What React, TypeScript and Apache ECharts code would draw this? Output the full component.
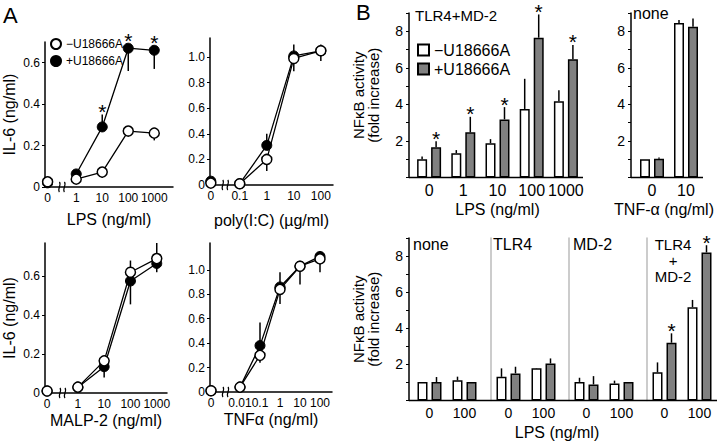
import React, { useEffect, useRef } from 'react';
import * as echarts from 'echarts';

const FONT = '"Liberation Sans", Arial, Helvetica, sans-serif';

// ---------- Panel A : IL-6 (ng/ml) ----------
const lpsDoses = [0, 1, 10, 100, 1000];
const lpsMinus = [0.025, 0.038, 0.072, 0.27, 0.26];
const lpsPlus = [0.02, 0.063, 0.29, 0.67, 0.66];
const lpsMinusErr = [0.025, 0.038, 0.045, 0.27, 0.225];
const lpsPlusErr = [0.02, 0.075, 0.35, 0.56, 0.57];
const lpsPlusSig = [false, false, true, true, true];

const polyDoses = [0, 0.1, 1, 10, 100];
const polyMinus = [0.015, 0.01, 0.2, 0.99, 1.05];
const polyPlus = [0.03, 0.01, 0.31, 1.01, 1.05];
const polyMinusErr = [0.015, 0.05, 0.11, 0.89, 0.97];
const polyPlusErr = [0.03, 0.01, 0.4, 1.1, 1.1];

const malpDoses = [0, 1, 10, 100, 1000];
const malpMinus = [0.01, 0.03, 0.165, 0.62, 0.69];
const malpPlus = [0.01, 0.03, 0.135, 0.575, 0.665];
const malpMinusErr = [0.01, 0.03, 0.19, 0.68, 0.77];
const malpPlusErr = [0.01, 0.03, 0.08, 0.455, 0.62];

const tnfDoses = [0, 0.01, 0.1, 1, 10, 100];
const tnfMinus = [0.01, 0.04, 0.3, 0.84, 1.03, 1.09];
const tnfPlus = [0.01, 0.04, 0.38, 0.86, 1.03, 1.11];
const tnfMinusErr = [0.01, 0.04, 0.24, 0.72, 0.88, 0.98];
const tnfPlusErr = [0.01, 0.04, 0.57, 0.98, 1.06, 1.14];

// ---------- Panel B : NF-kB activity (fold increase) ----------
const lpsCats = ['0', '1', '10', '100', '1000'];
const tmLpsMinus = [1.0, 1.33, 1.88, 3.75, 4.17];
const tmLpsPlus = [1.65, 2.47, 3.18, 7.65, 6.47];
const tmLpsMinusErr = [1.15, 1.5, 2.1, 5.4, 4.78];
const tmLpsPlusErr = [1.98, 3.32, 3.85, 8.92, 7.25];
const tmLpsPlusSig = [true, true, true, true, true];

const tnfCats = ['0', '10'];
const tnfNfkbMinus = [1.0, 8.45];
const tnfNfkbPlus = [1.02, 8.25];
const tnfNfkbMinusErr = [1.0, 8.62];
const tnfNfkbPlusErr = [1.1, 8.7];

const lps2Cats = ['0', '100'];
const noneMinus = [1.03, 1.12];
const nonePlus = [1.02, 1.02];
const noneMinusErr = [1.03, 1.32];
const nonePlusErr = [1.3, 1.02];
const tlr4Minus = [1.31, 1.78];
const tlr4Plus = [1.5, 2.05];
const tlr4MinusErr = [1.78, 1.8];
const tlr4PlusErr = [1.87, 2.33];
const md2Minus = [1.03, 0.94];
const md2Plus = [0.89, 1.03];
const md2MinusErr = [1.26, 1.1];
const md2PlusErr = [1.35, 1.03];
const bothMinus = [1.56, 5.17];
const bothPlus = [3.2, 8.2];
const bothMinusErr = [2.11, 5.57];
const bothPlusErr = [3.72, 8.6];
const bothPlusSig = [true, true];

const yTicksA1 = [0, 0.2, 0.4, 0.6];
const yTicksA2 = [0, 0.2, 0.4, 0.6, 0.8, 1.0];

// ---------- layout ----------
const G = [
  { left: 45, top: 42, width: 128, height: 145 }, // A LPS
  { left: 210, top: 38, width: 123, height: 147 }, // A poly(I:C)
  { left: 45, top: 243, width: 122, height: 150 }, // A MALP-2
  { left: 210, top: 243, width: 122, height: 149 }, // A TNFa
  { left: 412, top: 13, width: 171, height: 164.5 }, // B TLR4+MD-2
  { left: 635, top: 13, width: 68, height: 164.5 }, // B none TNF
  { left: 412, top: 238, width: 70, height: 162.5 }, // B none
  { left: 491, top: 238, width: 70, height: 162.5 }, // B TLR4
  { left: 569, top: 238, width: 70, height: 162.5 }, // B MD-2
  { left: 647, top: 238, width: 70, height: 162.5 }, // B TLR4+MD-2
];

const MINUS = '\u2212U18666A';
const PLUS = '+U18666A';

const logPos = (doses: number[], zero: number) => doses.map((d) => (d === 0 ? zero : Math.log10(d)));

const errBar = (gi: number, data: number[][], offset: number) => ({
  type: 'custom',
  xAxisIndex: gi,
  yAxisIndex: gi,
  silent: true,
  z: 1,
  clip: false,
  data,
  renderItem: (_p: any, api: any) => {
    const a = api.coord([api.value(0), api.value(1)]);
    const b = api.coord([api.value(0), api.value(2)]);
    return {
      type: 'line',
      shape: { x1: a[0] + offset, y1: a[1], x2: b[0] + offset, y2: b[1] },
      style: { stroke: '#000', lineWidth: 1.5 },
    };
  },
});

const starSeries = (gi: number, data: number[][], offset: number, r: number) => ({
  type: 'custom',
  xAxisIndex: gi,
  yAxisIndex: gi,
  silent: true,
  z: 6,
  clip: false,
  data,
  renderItem: (_p: any, api: any) => {
    const a = api.coord([api.value(0), api.value(1)]);
    const b = api.coord([api.value(0), api.value(2)]);
    const top = Math.min(a[1] - r, b[1]);
    return {
      type: 'text',
      x: a[0] + offset,
      y: top - 3,
      style: { text: '*', fontSize: 21, fontFamily: FONT, fill: '#000', align: 'center', verticalAlign: 'middle' },
    };
  },
});

function aAxes(gi: number, doses: number[], zero: number, min: number, max: number, ymax: number, yTicks: number[], xName: string, nameGap: number) {
  const pos = logPos(doses, zero);
  const labels = doses.map((d) => String(d));
  const xAxis = {
    type: 'value',
    gridIndex: gi,
    min,
    max,
    axisLine: { show: true, onZero: false, lineStyle: { color: '#000', width: 1.5 } },
    axisTick: { show: false },
    axisLabel: {
      customValues: pos,
      formatter: (v: number) => {
        const k = pos.findIndex((p) => Math.abs(p - v) < 1e-6);
        return k >= 0 ? labels[k] : '';
      },
      fontSize: 12,
      fontFamily: FONT,
      color: '#000',
      margin: 5,
    },
    splitLine: { show: false },
    name: xName,
    nameLocation: 'middle',
    nameGap,
    nameTextStyle: { fontSize: 16, fontFamily: FONT, color: '#000' },
  };
  const yAxis = {
    type: 'value',
    gridIndex: gi,
    min: 0,
    max: ymax,
    axisLine: { show: true, onZero: false, lineStyle: { color: '#000', width: 1.5 } },
    axisTick: { show: true, inside: false, length: 3, customValues: yTicks, lineStyle: { color: '#000', width: 1 } },
    axisLabel: {
      customValues: yTicks,
      formatter: (v: number) => (v === 0 ? '0' : v.toFixed(1)),
      fontSize: 12,
      fontFamily: FONT,
      color: '#000',
      margin: 5,
    },
    splitLine: { show: false },
    name: gi % 2 === 0 ? 'IL-6 (ng/ml)' : '',
    nameLocation: 'middle',
    nameGap: 28,
    nameTextStyle: { fontSize: 16, fontFamily: FONT, color: '#000' },
  };
  return { xAxis, yAxis };
}

function aSeries(gi: number, doses: number[], zero: number, minus: number[], plus: number[], minusErr: number[], plusErr: number[], sig?: boolean[]) {
  const pos = logPos(doses, zero);
  const filled = { color: '#000', borderColor: '#000', borderWidth: 1, opacity: 1 };
  const open = { color: '#fff', borderColor: '#000', borderWidth: 1.5, opacity: 1 };
  const out: any[] = [
    errBar(gi, pos.map((p, i) => [p, plus[i], plusErr[i]]), 0),
    errBar(gi, pos.map((p, i) => [p, minus[i], minusErr[i]]), 0),
    {
      type: 'line', name: PLUS, xAxisIndex: gi, yAxisIndex: gi, z: 3,
      data: pos.slice(1).map((p, i) => [p, plus[i + 1]]),
      symbol: 'circle', symbolSize: 10, showSymbol: true,
      lineStyle: { color: '#000', width: 1.3 }, itemStyle: filled,
    },
    {
      type: 'scatter', name: PLUS, xAxisIndex: gi, yAxisIndex: gi, z: 3,
      data: [[pos[0], plus[0]]], symbol: 'circle', symbolSize: 10, itemStyle: filled,
    },
    {
      type: 'line', name: MINUS, xAxisIndex: gi, yAxisIndex: gi, z: 4,
      data: pos.slice(1).map((p, i) => [p, minus[i + 1]]),
      symbol: 'circle', symbolSize: 10, showSymbol: true,
      lineStyle: { color: '#000', width: 1.3 }, itemStyle: open,
    },
    {
      type: 'scatter', name: MINUS, xAxisIndex: gi, yAxisIndex: gi, z: 4,
      data: [[pos[0], minus[0]]], symbol: 'circle', symbolSize: 10, itemStyle: open,
    },
  ];
  if (sig) {
    out.push(starSeries(gi, pos.map((p, i) => [p, plus[i], plusErr[i]]).filter((_d, i) => sig[i]), 0, 5));
  }
  return out;
}

function bAxes(gi: number, cats: string[], opts: { showY: boolean; yOffset: number; labelSize: number; xName?: string; yName?: string; namePad?: number[] }) {
  const xAxis = {
    type: 'category',
    gridIndex: gi,
    data: cats,
    axisLine: { show: false },
    axisTick: { show: false },
    axisLabel: { interval: 0, fontSize: opts.labelSize, fontFamily: FONT, color: '#000', margin: 5 },
    name: opts.xName || '',
    nameLocation: 'middle',
    nameGap: 24,
    nameTextStyle: { fontSize: 16, fontFamily: FONT, color: '#000', padding: opts.namePad || 0 },
  };
  const yAxis = opts.showY
    ? {
        type: 'value', gridIndex: gi, min: 0, max: 9, interval: 1, offset: opts.yOffset,
        axisLine: { show: true, lineStyle: { color: '#000', width: 1.5 } },
        axisTick: { show: true, length: 3, lineStyle: { color: '#000', width: 1 } },
        axisLabel: {
          formatter: (v: number) => (v > 0 && v % 2 === 0 ? String(v) : ''),
          fontSize: 14, fontFamily: FONT, color: '#000', margin: 6,
        },
        splitLine: { show: false },
        name: opts.yName || '',
        nameLocation: 'middle',
        nameGap: 28,
        nameTextStyle: { fontSize: 15, fontFamily: FONT, color: '#000', lineHeight: 15 },
      }
    : {
        type: 'value', gridIndex: gi, min: 0, max: 9, interval: 1,
        axisLine: { show: true, lineStyle: { color: '#bbb', width: 1.5 } },
        axisTick: { show: false }, axisLabel: { show: false }, splitLine: { show: false },
      };
  return { xAxis, yAxis };
}

function bSeries(gi: number, minus: number[], plus: number[], minusErr: number[], plusErr: number[], sig?: boolean[]) {
  const off = 7;
  const out: any[] = [
    {
      type: 'bar', name: 'b' + MINUS, xAxisIndex: gi, yAxisIndex: gi, data: minus, barWidth: 10, barGap: '40%', z: 2,
      itemStyle: { color: '#fff', borderColor: '#000', borderWidth: 1.5 },
    },
    {
      type: 'bar', name: 'b' + PLUS, xAxisIndex: gi, yAxisIndex: gi, data: plus, barWidth: 10, barGap: '40%', z: 2,
      itemStyle: { color: '#808080', borderColor: '#000', borderWidth: 1.5 },
    },
    errBar(gi, minus.map((v, i) => [i, v, minusErr[i]]), -off),
    errBar(gi, plus.map((v, i) => [i, v, plusErr[i]]), off),
  ];
  if (sig) {
    out.push(starSeries(gi, plus.map((v, i) => [i, v, plusErr[i]]).filter((_d, i) => sig[i]), off, 0));
  }
  return out;
}

const A_CFG = [
  { doses: lpsDoses, zero: -1.1, min: -1.2, max: 3.72, ymax: 0.7, ticks: yTicksA1, name: 'LPS (ng/ml)', gap: 24 },
  { doses: polyDoses, zero: -2.07, min: -2.1, max: 2.45, ymax: 1.15, ticks: yTicksA2, name: 'poly(I:C) (\u00b5g/ml)', gap: 27 },
  { doses: malpDoses, zero: -1.17, min: -1.25, max: 3.39, ymax: 0.77, ticks: yTicksA1, name: 'MALP-2 (ng/ml)', gap: 19 },
  { doses: tnfDoses, zero: -3.45, min: -3.5, max: 2.6, ymax: 1.22, ticks: yTicksA2, name: 'TNF\u03b1 (ng/ml)', gap: 19 },
];

function buildOption() {
  const xAxis: any[] = [];
  const yAxis: any[] = [];
  A_CFG.forEach((c, gi) => {
    const ax = aAxes(gi, c.doses, c.zero, c.min, c.max, c.ymax, c.ticks, c.name, c.gap);
    xAxis.push(ax.xAxis);
    yAxis.push(ax.yAxis);
  });
  const yName = 'NF\u03baB activity\n(fold increase)';
  const bCfg = [
    bAxes(4, lpsCats, { showY: true, yOffset: 3, labelSize: 16, xName: 'LPS (ng/ml)', yName }),
    bAxes(5, tnfCats, { showY: true, yOffset: 4, labelSize: 16, xName: 'TNF-\u03b1 (ng/ml)', namePad: [0, 10, 0, 0] }),
    bAxes(6, lps2Cats, { showY: true, yOffset: 3, labelSize: 14, yName }),
    bAxes(7, lps2Cats, { showY: false, yOffset: 0, labelSize: 14 }),
    bAxes(8, lps2Cats, { showY: false, yOffset: 0, labelSize: 14 }),
    bAxes(9, lps2Cats, { showY: false, yOffset: 0, labelSize: 14 }),
  ];
  bCfg.forEach((b) => {
    xAxis.push(b.xAxis);
    yAxis.push(b.yAxis);
  });

  const series: any[] = [
    ...aSeries(0, lpsDoses, A_CFG[0].zero, lpsMinus, lpsPlus, lpsMinusErr, lpsPlusErr, lpsPlusSig),
    ...aSeries(1, polyDoses, A_CFG[1].zero, polyMinus, polyPlus, polyMinusErr, polyPlusErr),
    ...aSeries(2, malpDoses, A_CFG[2].zero, malpMinus, malpPlus, malpMinusErr, malpPlusErr),
    ...aSeries(3, tnfDoses, A_CFG[3].zero, tnfMinus, tnfPlus, tnfMinusErr, tnfPlusErr),
    ...bSeries(4, tmLpsMinus, tmLpsPlus, tmLpsMinusErr, tmLpsPlusErr, tmLpsPlusSig),
    ...bSeries(5, tnfNfkbMinus, tnfNfkbPlus, tnfNfkbMinusErr, tnfNfkbPlusErr),
    ...bSeries(6, noneMinus, nonePlus, noneMinusErr, nonePlusErr),
    ...bSeries(7, tlr4Minus, tlr4Plus, tlr4MinusErr, tlr4PlusErr),
    ...bSeries(8, md2Minus, md2Plus, md2MinusErr, md2PlusErr),
    ...bSeries(9, bothMinus, bothPlus, bothMinusErr, bothPlusErr, bothPlusSig),
  ];

  const txt = (x: number, y: number, text: string, size: number, align = 'left', lineHeight = 16) => ({
    type: 'text', x, y, z: 50,
    style: { text, fontSize: size, fontFamily: FONT, fill: '#000', align, verticalAlign: 'top', lineHeight },
  });
  const axLine = (x1: number, x2: number, y: number) => ({
    type: 'line', z: 40, shape: { x1, y1: y, x2, y2: y }, style: { stroke: '#000', lineWidth: 1.5 },
  });
  const bTL = G[4], bTR = G[5], b1 = G[6], b4 = G[9];

  const graphic: any[] = [
    txt(3, 3, 'A', 22, 'left', 24),
    txt(356, 0, 'B', 22, 'left', 24),
    txt(415, 7, 'TLR4+MD-2', 15),
    txt(633, 5, 'none', 16),
    txt(413, 236, 'none', 16),
    txt(493, 236, 'TLR4', 16),
    txt(573, 236, 'MD-2', 16),
    txt(673, 236, 'TLR4\n+\nMD-2', 15, 'center', 16),
    txt(557, 424, 'LPS (ng/ml)', 16, 'center'),
    axLine(bTL.left - 3, bTL.left + bTL.width, bTL.top + bTL.height),
    axLine(bTR.left - 4, bTR.left + bTR.width, bTR.top + bTR.height),
    axLine(b1.left - 3, b4.left + b4.width, b1.top + b1.height),
  ];

  // axis-break marks between the zero-dose position and the first dose of each panel A axis
  A_CFG.forEach((c, gi) => {
    const pos = logPos(c.doses, c.zero);
    const mid = (pos[0] + pos[1]) / 2;
    const g = G[gi];
    const px = g.left + ((mid - c.min) / (c.max - c.min)) * g.width;
    const py = g.top + g.height;
    graphic.push({
      type: 'group', x: px, y: py, z: 60,
      children: [
        { type: 'rect', shape: { x: -4.5, y: -3, width: 9, height: 6 }, style: { fill: '#fff' } },
        { type: 'bezierCurve', shape: { x1: -2.5, y1: -5, cpx1: 0, cpy1: -2, cpx2: -5, cpy2: 2, x2: -2.5, y2: 5 }, style: { stroke: '#000', lineWidth: 1.2, fill: 'none' } },
        { type: 'bezierCurve', shape: { x1: 2.5, y1: -5, cpx1: 5, cpy1: -2, cpx2: 0, cpy2: 2, x2: 2.5, y2: 5 }, style: { stroke: '#000', lineWidth: 1.2, fill: 'none' } },
      ],
    });
  });

  return {
    animation: false,
    backgroundColor: '#fff',
    textStyle: { fontFamily: FONT, color: '#000' },
    grid: G.map((g) => ({ ...g, containLabel: false, outerBoundsMode: 'none' })),
    xAxis,
    yAxis,
    legend: [
      {
        data: [MINUS, PLUS], left: 50, top: 38, orient: 'vertical', icon: 'circle',
        itemWidth: 10, itemHeight: 10, itemGap: 5, padding: 0, selectedMode: false,
        textStyle: { fontSize: 12, fontFamily: FONT, color: '#000' },
      },
      {
        data: ['b' + MINUS, 'b' + PLUS], left: 417, top: 42, orient: 'vertical', icon: 'rect',
        itemWidth: 11, itemHeight: 11, itemGap: 3, padding: 0, selectedMode: false,
        formatter: (n: string) => n.slice(1),
        textStyle: { fontSize: 16, fontFamily: FONT, color: '#000' },
      },
    ],
    series,
    graphic,
  };
}

export default function App() {
  const ref = useRef<HTMLDivElement>(null);
  useEffect(() => {
    document.body.style.margin = '0';
    if (!ref.current) return;
    const chart = echarts.init(ref.current, undefined, { renderer: 'svg' });
    chart.setOption(buildOption() as any);
    return () => chart.dispose();
  }, []);
  return <div ref={ref} style={{ position: 'fixed', left: 0, top: 0, width: 720, height: 442, background: '#fff' }} />;
}
